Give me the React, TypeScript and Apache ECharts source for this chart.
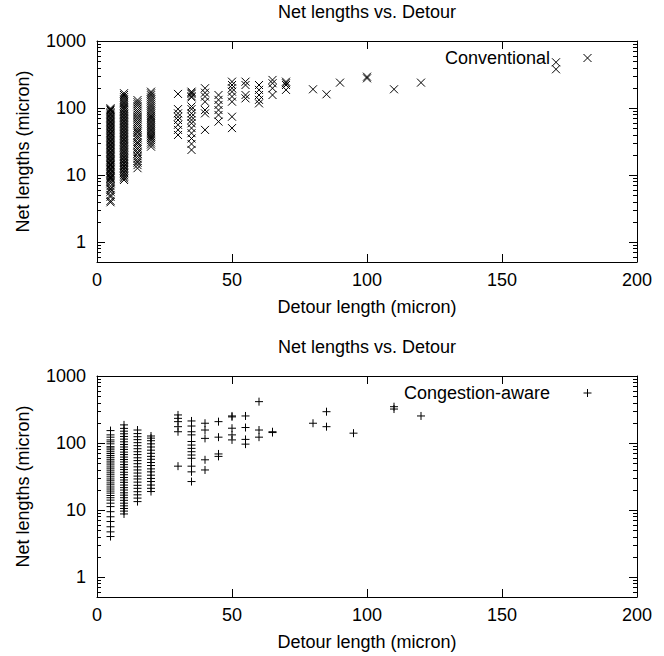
import React, { useEffect, useRef } from "react";
import * as echarts from "echarts";

const TITLE = "Net lengths vs. Detour";
const X_NAME = "Detour length (micron)";
const Y_NAME = "Net lengths (micron)";
const X_MIN = 0;
const X_MAX = 200;
const X_INTERVAL = 50;
const Y_MIN = 0.5;
const Y_MAX = 1000;
const Y_MINOR_TICKS = [
  0.6, 0.7, 0.8, 0.9, 2, 3, 4, 5, 6, 7, 8, 9, 20, 30, 40, 50, 60, 70, 80, 90,
  200, 300, 400, 500, 600, 700, 800, 900,
];

const SERIES_NAMES = ["Conventional", "Congestion-aware"];

// Conventional: detour length per column, and the net lengths read in each column
const convDetour = [5, 10, 15, 20, 30, 35, 40, 45, 50, 55, 60, 65, 70, 80, 85, 90, 100, 110, 120, 170];
const convNetLengths: number[][] = [
  [3.9, 4.1, 4.7, 5.0, 5.6, 6.0, 6.3, 6.8, 7.5, 7.9, 8.4, 8.8, 9.1, 9.5, 10, 10.4, 10.9, 11.5, 12, 12.4, 13.1, 13.8, 14.3, 15, 15.8, 16.5, 17.2, 18, 18.9, 19.8, 20.6, 21.7, 22.5, 23.8, 24.9, 26, 27.3, 28.5, 30, 31.4, 32.8, 34.5, 36, 37.9, 39.5, 41.6, 43.2, 45.5, 47.7, 50, 52.4, 55, 57.5, 60.3, 63, 66.2, 69, 72.4, 76, 79.5, 83.4, 87, 91.6, 95, 99],
  [8.4, 8.9, 9.4, 9.9, 10.5, 11, 11.7, 12.3, 13, 13.6, 14.4, 15.1, 16, 16.8, 17.7, 18.6, 19.6, 20.7, 21.8, 23, 24.1, 25.5, 26.8, 28.2, 29.7, 31.3, 33, 34.6, 36.5, 38.4, 40.5, 42.6, 44.8, 47.2, 49.7, 52.3, 55, 58, 61, 64.2, 67.6, 71.2, 75, 79, 83, 87.5, 92, 97, 103, 110, 118, 126, 135, 145, 156, 166],
  [12.6, 14, 15.2, 16.1, 17.5, 19, 20.8, 22, 24, 25.5, 27.6, 29.5, 31, 34, 36.5, 39, 42.5, 45, 48, 51, 55, 59, 63, 68, 73, 79, 85, 91, 98, 106, 114, 122, 131],
  [26.4, 28.5, 30.5, 33, 35.5, 38, 41, 44, 47, 50.5, 54, 58, 62, 66.5, 71, 76, 82, 88, 94, 101, 108, 116, 125, 134, 144, 155, 165, 175],
  [39.5, 47, 56, 66, 74, 83, 96, 162],
  [23.6, 29, 35, 42, 50, 59, 66, 74, 83, 96, 105, 144, 150, 162, 168, 175],
  [47, 83, 93, 124, 148, 169, 197],
  [62.5, 78.6, 93, 111, 132, 156],
  [50, 74, 124, 148, 175, 197, 220, 247],
  [139, 156, 220, 247],
  [117, 132, 156, 186, 220],
  [156, 197, 234, 262],
  [186, 220, 234, 247],
  [190],
  [160],
  [239],
  [277, 293],
  [190],
  [239],
  [378, 481],
];

// Congestion-aware
const congDetour = [5, 10, 15, 20, 30, 35, 40, 45, 50, 55, 60, 65, 80, 85, 95, 110, 120];
const congNetLengths: number[][] = [
  [4.0, 4.7, 5.6, 6.7, 7.9, 9.4, 11.2, 12.6, 14, 15.2, 16.4, 17.8, 19.1, 20.5, 22, 23.7, 25.3, 27.2, 29, 31.2, 33.5, 35.8, 38.3, 41, 43.8, 47, 50.2, 53.5, 57, 61, 65, 69.5, 74, 79, 84, 88, 97, 104, 111, 122, 132, 153],
  [8.7, 9.6, 10.5, 11.5, 12.6, 13.9, 15.2, 16.6, 18, 19.8, 21.5, 23.5, 25.8, 28, 30.5, 33.5, 36.5, 40, 43.5, 47.5, 52, 56.5, 61.5, 67, 73, 80, 87, 95, 104, 114, 125, 137, 150, 165, 186],
  [13.3, 15, 16.8, 18.7, 21, 23.3, 26, 29, 32, 35.5, 39.5, 44, 49, 54.5, 60, 67, 74, 82, 91, 101, 112, 124, 138, 156],
  [18.8, 21, 23.5, 26.5, 29.5, 33, 37, 41, 46, 51, 57, 63, 70, 78, 87, 97, 108, 118, 127],
  [45, 147, 175, 208, 233, 262],
  [26.5, 37, 45, 59, 66, 74, 83, 93, 105, 132, 147, 179, 213],
  [39.5, 56, 117, 156, 197],
  [63, 68.5, 122, 208],
  [111, 132, 166, 245, 253],
  [96, 113, 170, 253],
  [122, 156, 414],
  [143, 147],
  [197],
  [175, 293],
  [140],
  [321, 348],
  [253],
];

const X_MARK = "path://M0,0L8,8M8,0L0,8";
const PLUS_MARK = "path://M4,0L4,8M0,4L8,4";

const FONT = "'Liberation Sans', Arial, Helvetica, sans-serif";
const FS = 18;

function toPoints(xs: number[], ys: number[][]) {
  const out: number[][] = [];
  xs.forEach((x, i) => ys[i].forEach((v) => out.push([x, v])));
  return out;
}

function buildOption() {
  const panelTops = [41, 376];
  const gridLeft = 97;
  const gridW = 540;
  const gridH = 221;
  const MAJOR = 8;
  const MINOR = 4;
  const axisLine = { show: true, onZero: false, lineStyle: { color: "#000", width: 1 } };
  const txt = { color: "#000", fontSize: FS, fontFamily: FONT };

  const grid: any[] = [];
  const xAxis: any[] = [];
  const yAxis: any[] = [];
  const title: any[] = [];
  const legend: any[] = [];
  const series: any[] = [];

  const dataSets = [toPoints(convDetour, convNetLengths), toPoints(congDetour, congNetLengths)];
  const marks = [X_MARK, PLUS_MARK];

  panelTops.forEach((top, p) => {
    grid.push({ left: gridLeft, top, width: gridW, height: gridH, containLabel: false });
    title.push({
      text: TITLE,
      left: gridLeft + gridW / 2,
      textAlign: "center",
      top: top - 38,
      padding: 0,
      textStyle: { ...txt, fontWeight: "normal" },
    });
    xAxis.push({
      type: "value",
      gridIndex: p,
      position: "bottom",
      min: X_MIN,
      max: X_MAX,
      interval: X_INTERVAL,
      name: X_NAME,
      nameLocation: "middle",
      nameGap: 36,
      nameTextStyle: txt,
      axisLine,
      axisTick: { show: true, inside: true, length: MAJOR, lineStyle: { color: "#000" } },
      axisLabel: { ...txt, margin: 9 },
      splitLine: { show: false },
    });
    xAxis.push({
      type: "value",
      gridIndex: p,
      position: "top",
      min: X_MIN,
      max: X_MAX,
      interval: X_INTERVAL,
      axisLine,
      axisTick: { show: true, inside: true, length: MAJOR, lineStyle: { color: "#000" } },
      axisLabel: { show: false },
      splitLine: { show: false },
    });
    yAxis.push({
      type: "log",
      logBase: 10,
      gridIndex: p,
      position: "left",
      min: Y_MIN,
      max: Y_MAX,
      name: Y_NAME,
      nameLocation: "middle",
      nameGap: 65,
      nameRotate: 90,
      nameTextStyle: txt,
      axisLine,
      axisTick: { show: true, inside: true, length: MAJOR, lineStyle: { color: "#000" } },
      axisLabel: {
        ...txt,
        margin: 11,
        formatter: (v: number) => {
          const l = Math.log10(v);
          return Math.abs(l - Math.round(l)) < 1e-6 ? String(Math.round(v)) : "";
        },
      },
      splitLine: { show: false },
    });
    yAxis.push({
      type: "log",
      logBase: 10,
      gridIndex: p,
      position: "right",
      min: Y_MIN,
      max: Y_MAX,
      axisLine,
      axisTick: { show: true, inside: true, length: MAJOR, lineStyle: { color: "#000" } },
      axisLabel: { show: false },
      splitLine: { show: false },
    });
    legend.push({
      data: [SERIES_NAMES[p]],
      right: 72,
      top: top + 8,
      align: "right",
      orient: "horizontal",
      itemWidth: 65,
      itemHeight: 8,
      itemGap: 0,
      padding: 0,
      selectedMode: false,
      itemStyle: { color: "#000", borderColor: "#000", borderWidth: 1 },
      textStyle: txt,
    });
    series.push({
      type: "scatter",
      name: SERIES_NAMES[p],
      xAxisIndex: p * 2,
      yAxisIndex: p * 2,
      symbol: marks[p],
      symbolSize: 8,
      symbolKeepAspect: true,
      itemStyle: { color: "#000", borderColor: "#000", borderWidth: 1, opacity: 1 },
      data: dataSets[p],
      silent: true,
    });
    series.push({
      type: "custom",
      name: "minor-ticks-" + p,
      xAxisIndex: p * 2,
      yAxisIndex: p * 2,
      silent: true,
      data: Y_MINOR_TICKS.map((v) => [X_MIN, v]),
      renderItem: (_params: any, api: any) => {
        const v = api.value(1);
        const l = api.coord([X_MIN, v]);
        const r = api.coord([X_MAX, v]);
        const y = Math.round(l[1]) + 0.5;
        return {
          type: "group",
          children: [
            { type: "line", shape: { x1: l[0], y1: y, x2: l[0] + MINOR, y2: y }, style: { stroke: "#000", lineWidth: 1 } },
            { type: "line", shape: { x1: r[0] - MINOR, y1: y, x2: r[0], y2: y }, style: { stroke: "#000", lineWidth: 1 } },
          ],
        };
      },
    });
  });

  return {
    animation: false,
    backgroundColor: "#fff",
    textStyle: { fontFamily: FONT },
    title,
    legend,
    grid,
    xAxis,
    yAxis,
    series,
  };
}

export default function App() {
  const ref = useRef<HTMLDivElement>(null);
  useEffect(() => {
    if (!ref.current) return;
    const chart = echarts.init(ref.current, undefined, { renderer: "svg" });
    chart.setOption(buildOption() as any);
    return () => chart.dispose();
  }, []);
  return (
    <div
      ref={ref}
      style={{ position: "fixed", left: 0, top: 0, width: 664, height: 656, background: "#fff" }}
    />
  );
}
